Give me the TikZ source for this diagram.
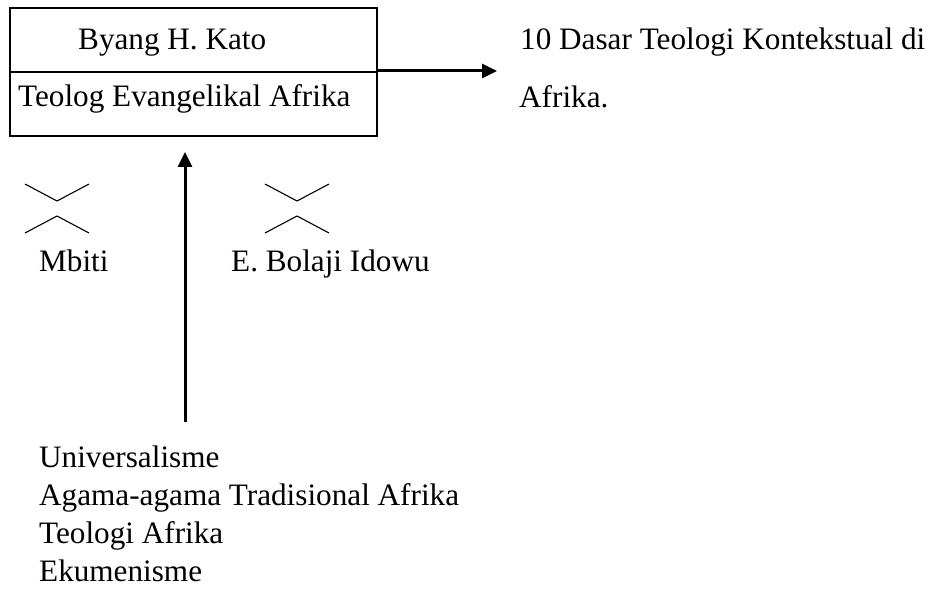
\documentclass[tikz,border=0pt]{standalone}
\usepackage{fontspec}
\setmainfont{Liberation Serif}
\usetikzlibrary{arrows.meta}
\begin{document}
\begin{tikzpicture}[x=1pt,y=-1pt,
  txt/.style={anchor=base west,inner sep=0pt,font=\fontsize{31.2}{37}\selectfont},
  thin box/.style={draw,line width=1.2pt},
  bigarrow/.style={line width=3pt,-{Triangle[length=15pt,width=14pt]}},
  chev/.style={line width=1.1pt}]
\useasboundingbox (0,0) rectangle (938,596);
% box
\node[thin box,minimum width=367pt,minimum height=128pt,inner sep=0pt] (box) at (193.5,72) {};
\draw[line width=1.2pt] (box.west) -- (box.east);
\node[txt] (kato) at (78,50) {Byang H. Kato};
\node[txt] (teolog) at (18,107) {Teolog Evangelikal Afrika};
% right arrow and text
\coordinate (rtip) at (497,71);
\draw[bigarrow] (box.east |- rtip) -- (rtip);
\node[txt] (dasar1) at (520,50) {10 Dasar Teologi Kontekstual di};
\node[txt] (dasar2) at (519,108) {Afrika.};
% vertical arrow
\coordinate (vbot) at (185,422);
\coordinate (vtip) at (185,152);
\draw[bigarrow] (vbot) -- (vtip);
% chevrons
\draw[chev] (25,184) -- (57,201) -- (89,184);
\draw[chev] (25,233) -- (57,216) -- (89,233);
\draw[chev] (265,184) -- (297,201) -- (329,184);
\draw[chev] (265,233) -- (297,216) -- (329,233);
% names
\node[txt] (mbiti) at (39,272) {Mbiti};
\node[txt] (idowu) at (231,272) {E. Bolaji Idowu};
% list
\node[txt] (l1) at (39,467) {Universalisme};
\node[txt] (l2) at (39,505) {Agama-agama Tradisional Afrika};
\node[txt] (l3) at (39,543) {Teologi Afrika};
\node[txt] (l4) at (39,581) {Ekumenisme};
\end{tikzpicture}
\end{document}
